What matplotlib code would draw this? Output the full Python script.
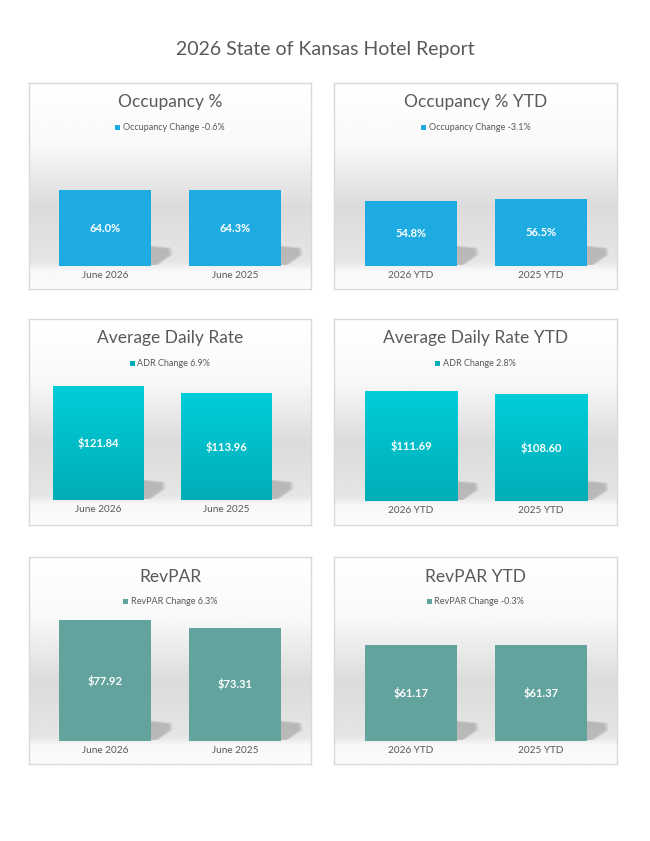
import matplotlib
matplotlib.use("Agg")
import matplotlib.pyplot as plt
import matplotlib.transforms as mtransforms
from matplotlib.patches import Patch, Polygon
import numpy as np

plt.rcParams['font.family'] = ['Lato', 'DejaVu Sans']

# data
report_title = "2026 State of Kansas Hotel Report"
panel_titles = ["Occupancy %", "Occupancy % YTD",
                "Average Daily Rate", "Average Daily Rate YTD",
                "RevPAR", "RevPAR YTD"]
legend_labels = ["Occupancy Change -0.6%", "Occupancy Change -3.1%",
                 "ADR Change 6.9%", "ADR Change 2.8%",
                 "RevPAR Change 6.3%", "RevPAR Change -0.3%"]
month_cats = ["June 2026", "June 2025"]
ytd_cats = ["2026 YTD", "2025 YTD"]
occ_month = [64.0, 64.3]
occ_ytd = [54.8, 56.5]
adr_month = [121.84, 113.96]
adr_ytd = [111.69, 108.60]
revpar_month = [77.92, 73.31]
revpar_ytd = [61.17, 61.37]

W, H = 650, 841
fig = plt.figure(figsize=(W / 100, H / 100), dpi=100)
fig.patch.set_facecolor('white')
TXT = '#595959'


def px_rect(x0, y0, x1, y1):
    return [x0 / W, 1 - y1 / H, (x1 - x0) / W, (y1 - y0) / H]


def panel_bg(x0, y0, x1, y1, floor_y):
    bg = fig.add_axes(px_rect(x0, y0, x1, y1), zorder=0)
    t = np.linspace(0, 1, 300)
    f = (floor_y - y0) / (y1 - y0)
    stops = [0, 0.3, 0.6, f - 0.02, f, f + 0.02, 1]
    vals = [1.0, 0.975, 0.86, 0.9, 0.93, 0.972, 0.985]
    g = np.interp(t, stops, vals)
    img = np.repeat(g[:, None], 2, axis=1)
    bg.imshow(img, cmap='gray', vmin=0, vmax=1, aspect='auto',
              extent=(0, 1, 0, 1), interpolation='bilinear')
    bg.set_xticks([])
    bg.set_yticks([])
    for s in bg.spines.values():
        s.set_color('#d9d9d9')
        s.set_linewidth(1)
    return bg


def draw_shadow(ax, x, y):
    trans = fig.dpi_scale_trans + mtransforms.ScaledTranslation(x, y, ax.transData)
    for k in range(4):
        e = k * 1.2
        pts = np.array([(-2, 1), (-2, 19 + e * 0.5), (17 + e, 17 + e * 0.4),
                        (18 + e, 11), (4 + e, 1)]) / 100.0
        ax.add_patch(Polygon(pts, closed=True, transform=trans, facecolor='#6a6a6a',
                             edgecolor='none', alpha=0.1, zorder=1, clip_on=False))


def bar_panel(box, ax_px, ymax, cats, vals, color, title, leg, title_y, leg_y,
              fmt, gradient=None):
    x0, y0, x1, y1 = box
    ax_l, ax_r, ax_b = ax_px
    panel_bg(x0, y0, x1, y1, ax_b)
    ax = fig.add_axes(px_rect(ax_l, ax_b - 130, ax_r, ax_b), zorder=1)
    ax.set_facecolor('none')
    ax.set_xlim(-0.5, len(cats) - 0.5)
    ax.set_ylim(0, ymax)
    xs = np.arange(len(cats))
    bars = ax.bar(xs, vals, width=0.71, color=color, zorder=3,
                  edgecolor='none')
    for b in bars:
        draw_shadow(ax, b.get_x() + b.get_width(), 0)
        if gradient is not None:
            grad = np.linspace(0, 1, 100)[:, None]
            cm = matplotlib.colors.LinearSegmentedColormap.from_list('g', gradient)
            im = ax.imshow(grad, cmap=cm, aspect='auto', zorder=4,
                           extent=(b.get_x(), b.get_x() + b.get_width(), 0, b.get_height()),
                           origin='upper')
            im.set_clip_path(b)
    ax.set_xlim(-0.5, len(cats) - 0.5)
    ax.set_ylim(0, ymax)
    for x, v in zip(xs, vals):
        ax.text(x, v / 2, fmt.format(v), ha='center', va='center', color='white',
                fontsize=8, fontweight='bold', zorder=6)
    ax.set_xticks(xs)
    ax.set_xticklabels(cats, fontsize=7.2, color=TXT)
    ax.tick_params(axis='x', length=0, pad=3.5)
    ax.set_yticks([])
    for s in ax.spines.values():
        s.set_visible(False)
    cx = (x0 + x1) / 2 / W
    fig.text(cx, 1 - title_y / H, title, ha='center', va='center',
             fontsize=12.5, color=TXT)
    fig.legend(handles=[Patch(facecolor=color if gradient is None else gradient[1])],
               labels=[leg], loc='center', bbox_to_anchor=(cx, 1 - leg_y / H),
               frameon=False, fontsize=6.5, labelcolor=TXT, handlelength=0.55,
               handleheight=0.55, handletextpad=0.3, borderaxespad=0)
    return ax


fig.text(0.5, 1 - 50 / H, report_title, ha='center', va='center',
         fontsize=14, color=TXT)

OCC = '#1eabe2'
ADR = ['#00cdd9', '#00adb7']
REV = '#62a39e'

bar_panel((29, 83, 311, 289), (40, 300, 266), 110, month_cats, occ_month, OCC,
          panel_titles[0], legend_labels[0], 102, 128, '{:.1f}%')
bar_panel((334, 83, 617, 289), (346, 606, 266), 110, ytd_cats, occ_ytd, OCC,
          panel_titles[1], legend_labels[1], 102, 128, '{:.1f}%')
bar_panel((29, 319, 311, 525), (34.5, 290.5, 500), 139, month_cats, adr_month, ADR[1],
          panel_titles[2], legend_labels[2], 338, 364, '${:.2f}', gradient=ADR)
bar_panel((334, 319, 617, 525), (346, 606, 501), 132, ytd_cats, adr_ytd, ADR[1],
          panel_titles[3], legend_labels[3], 338, 364, '${:.2f}', gradient=ADR)
bar_panel((29, 557, 311, 764), (40, 300, 741), 84, month_cats, revpar_month, REV,
          panel_titles[4], legend_labels[4], 577, 602, '${:.2f}')
bar_panel((334, 557, 617, 764), (346, 606, 741), 83, ytd_cats, revpar_ytd, REV,
          panel_titles[5], legend_labels[5], 577, 602, '${:.2f}')

fig.savefig('out.png', dpi=100)
